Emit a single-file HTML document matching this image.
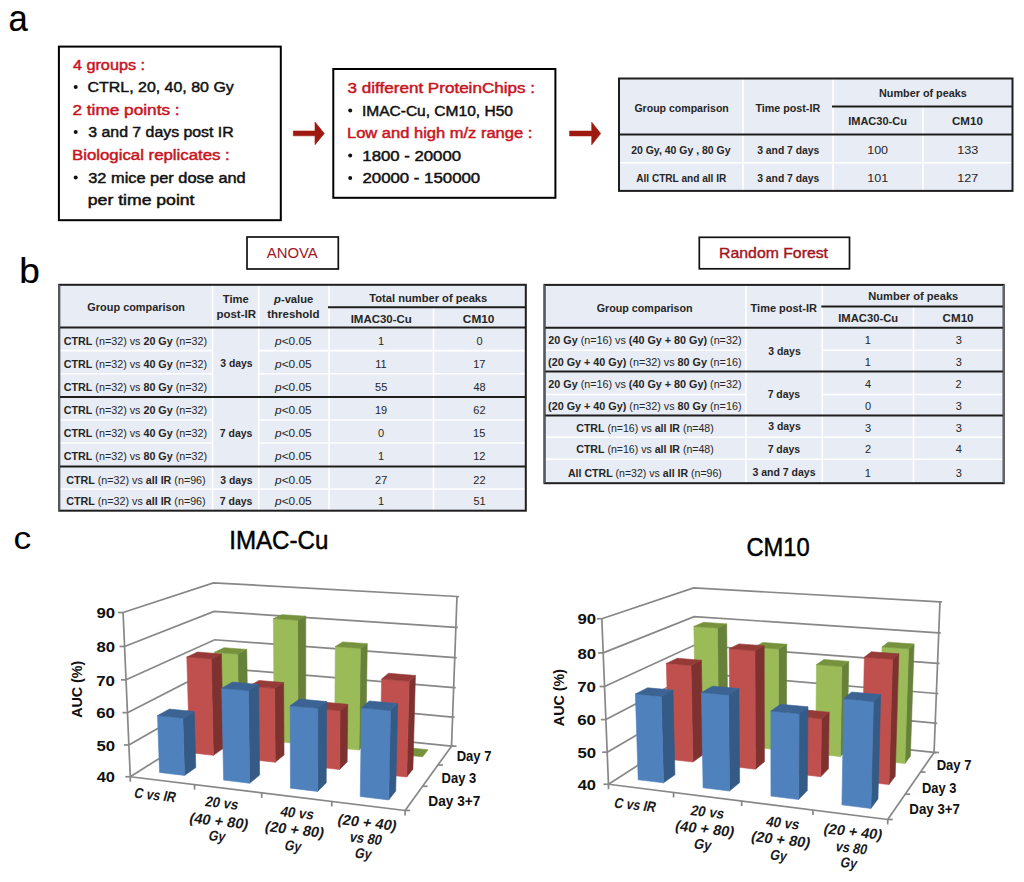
<!DOCTYPE html>
<html><head><meta charset="utf-8"><style>
html,body{margin:0;padding:0;background:#fff;}
svg{display:block;font-family:"Liberation Sans",sans-serif;}
</style></head><body>
<svg width="1024" height="882" viewBox="0 0 1024 882">
<rect width="1024" height="882" fill="#fff"/>
<text x="8.42" y="30.60" font-size="36.5" fill="#000" textLength="19.25" lengthAdjust="spacingAndGlyphs" stroke="#000" stroke-width="0.2">a</text>
<text x="19.28" y="282.60" font-size="35.5" fill="#000" textLength="20.55" lengthAdjust="spacingAndGlyphs" stroke="#000" stroke-width="0.2">b</text>
<text x="13.59" y="548.60" font-size="32" fill="#000" textLength="17.67" lengthAdjust="spacingAndGlyphs">c</text>
<rect x="58.90" y="46.60" width="221.90" height="173.60" fill="none" stroke="#000" stroke-width="2"/>
<text x="72.98" y="70.00" font-size="14" fill="#c8141e" textLength="72.03" lengthAdjust="spacingAndGlyphs" stroke="#c8141e" stroke-width="0.45">4 groups :</text>
<circle cx="75.7" cy="86.9" r="2.0" fill="#111"/>
<text x="87.50" y="92.00" font-size="14" fill="#111" textLength="146.30" lengthAdjust="spacingAndGlyphs" stroke="#111" stroke-width="0.45">CTRL, 20, 40, 80 Gy</text>
<text x="72.44" y="114.50" font-size="14" fill="#c8141e" textLength="107.22" lengthAdjust="spacingAndGlyphs" stroke="#c8141e" stroke-width="0.45">2 time points :</text>
<circle cx="75.7" cy="131.9" r="2.0" fill="#111"/>
<text x="88.27" y="137.00" font-size="14" fill="#111" textLength="145.45" lengthAdjust="spacingAndGlyphs" stroke="#111" stroke-width="0.45">3 and 7 days post IR</text>
<text x="71.96" y="159.70" font-size="14" fill="#c8141e" textLength="157.84" lengthAdjust="spacingAndGlyphs" stroke="#c8141e" stroke-width="0.45">Biological replicates :</text>
<circle cx="75.7" cy="177.6" r="2.0" fill="#111"/>
<text x="88.25" y="182.70" font-size="14" fill="#111" textLength="157.44" lengthAdjust="spacingAndGlyphs" stroke="#111" stroke-width="0.45">32 mice per dose and</text>
<text x="87.84" y="204.80" font-size="14" fill="#111" textLength="106.70" lengthAdjust="spacingAndGlyphs" stroke="#111" stroke-width="0.45">per time point</text>
<rect x="333.30" y="69.00" width="222.10" height="128.80" fill="none" stroke="#000" stroke-width="2"/>
<text x="347.62" y="93.00" font-size="14" fill="#c8141e" textLength="187.37" lengthAdjust="spacingAndGlyphs" stroke="#c8141e" stroke-width="0.45">3 different ProteinChips :</text>
<circle cx="350.2" cy="110.4" r="2.0" fill="#111"/>
<text x="361.90" y="115.50" font-size="14" fill="#111" textLength="151.03" lengthAdjust="spacingAndGlyphs" stroke="#111" stroke-width="0.45">IMAC-Cu, CM10, H50</text>
<text x="346.98" y="138.10" font-size="14" fill="#c8141e" textLength="185.38" lengthAdjust="spacingAndGlyphs" stroke="#c8141e" stroke-width="0.45">Low and high m/z range :</text>
<circle cx="350.2" cy="155.5" r="2.0" fill="#111"/>
<text x="362.36" y="160.60" font-size="14" fill="#111" textLength="98.70" lengthAdjust="spacingAndGlyphs" stroke="#111" stroke-width="0.45">1800 - 20000</text>
<circle cx="350.2" cy="178.1" r="2.0" fill="#111"/>
<text x="362.46" y="183.20" font-size="14" fill="#111" textLength="117.74" lengthAdjust="spacingAndGlyphs" stroke="#111" stroke-width="0.45">20000 - 150000</text>
<polygon points="293.30,131.00 315.00,131.00 315.00,122.10 324.30,133.40 315.00,144.70 315.00,135.80 293.30,135.80" fill="#9e1a10" stroke="#9e1a10" stroke-width="0.6" stroke-linejoin="round"/>
<polygon points="569.60,131.10 591.70,131.10 591.70,122.20 600.70,133.50 591.70,144.80 591.70,135.90 569.60,135.90" fill="#9e1a10" stroke="#9e1a10" stroke-width="0.6" stroke-linejoin="round"/>
<rect x="619.00" y="78.50" width="393.50" height="112.40" fill="#e8ecf4" stroke="none" stroke-width="0"/>
<line x1="743.00" y1="78.50" x2="743.00" y2="190.90" stroke="#fff" stroke-width="1.6"/>
<line x1="833.00" y1="78.50" x2="833.00" y2="190.90" stroke="#fff" stroke-width="1.6"/>
<line x1="923.00" y1="106.50" x2="923.00" y2="190.90" stroke="#fff" stroke-width="1.6"/>
<line x1="619.00" y1="162.70" x2="1012.50" y2="162.70" stroke="#fff" stroke-width="1.6"/>
<line x1="832.00" y1="106.50" x2="1012.50" y2="106.50" stroke="#1e1e1e" stroke-width="2"/>
<line x1="619.00" y1="134.40" x2="1012.50" y2="134.40" stroke="#1e1e1e" stroke-width="2"/>
<rect x="619.00" y="78.50" width="393.50" height="112.40" fill="none" stroke="#1e1e1e" stroke-width="2"/>
<text x="634.38" y="111.60" font-size="11" fill="#262626" textLength="94.41" lengthAdjust="spacingAndGlyphs" font-weight="bold">Group comparison</text>
<text x="755.39" y="112.00" font-size="11" fill="#262626" textLength="64.79" lengthAdjust="spacingAndGlyphs" font-weight="bold">Time post-IR</text>
<text x="879.04" y="96.90" font-size="11" fill="#262626" textLength="87.71" lengthAdjust="spacingAndGlyphs" font-weight="bold">Number of peaks</text>
<text x="848.13" y="124.80" font-size="11" fill="#262626" textLength="58.87" lengthAdjust="spacingAndGlyphs" font-weight="bold">IMAC30-Cu</text>
<text x="952.04" y="124.80" font-size="11" fill="#262626" textLength="30.79" lengthAdjust="spacingAndGlyphs" font-weight="bold">CM10</text>
<text x="631.19" y="154.00" font-size="11" fill="#262626" textLength="99.28" lengthAdjust="spacingAndGlyphs" font-weight="bold">20 Gy, 40 Gy , 80 Gy</text>
<text x="757.19" y="154.00" font-size="11" fill="#262626" textLength="62.14" lengthAdjust="spacingAndGlyphs" font-weight="bold">3 and 7 days</text>
<text x="636.20" y="181.60" font-size="11" fill="#262626" textLength="90.07" lengthAdjust="spacingAndGlyphs" font-weight="bold">All CTRL and all IR</text>
<text x="757.19" y="181.60" font-size="11" fill="#262626" textLength="62.14" lengthAdjust="spacingAndGlyphs" font-weight="bold">3 and 7 days</text>
<text x="867.20" y="153.70" font-size="11" fill="#262626" textLength="20.88" lengthAdjust="spacingAndGlyphs">100</text>
<text x="957.19" y="153.70" font-size="11" fill="#262626" textLength="21.02" lengthAdjust="spacingAndGlyphs">133</text>
<text x="867.19" y="181.60" font-size="11" fill="#262626" textLength="21.02" lengthAdjust="spacingAndGlyphs">101</text>
<text x="957.19" y="181.60" font-size="11" fill="#262626" textLength="21.02" lengthAdjust="spacingAndGlyphs">127</text>
<rect x="247.00" y="237.00" width="91.30" height="32.00" fill="none" stroke="#111" stroke-width="1.7"/>
<text x="266.80" y="258.30" font-size="14.5" fill="#a3151f" textLength="50.90" lengthAdjust="spacingAndGlyphs">ANOVA</text>
<rect x="699.30" y="237.30" width="150.20" height="31.50" fill="none" stroke="#111" stroke-width="1.7"/>
<text x="719.14" y="257.70" font-size="14.5" fill="#a3151f" textLength="108.84" lengthAdjust="spacingAndGlyphs" stroke="#a3151f" stroke-width="0.4">Random Forest</text>
<rect x="59.20" y="284.80" width="466.60" height="225.90" fill="#e8ecf4" stroke="none" stroke-width="0"/>
<line x1="212.50" y1="284.80" x2="212.50" y2="510.70" stroke="#fff" stroke-width="1.6"/>
<line x1="258.70" y1="284.80" x2="258.70" y2="510.70" stroke="#fff" stroke-width="1.6"/>
<line x1="329.00" y1="284.80" x2="329.00" y2="510.70" stroke="#fff" stroke-width="1.6"/>
<line x1="433.50" y1="307.30" x2="433.50" y2="510.70" stroke="#fff" stroke-width="1.6"/>
<line x1="59.20" y1="350.60" x2="212.50" y2="350.60" stroke="#fff" stroke-width="1.6"/>
<line x1="258.70" y1="350.60" x2="525.80" y2="350.60" stroke="#fff" stroke-width="1.6"/>
<line x1="59.20" y1="373.80" x2="212.50" y2="373.80" stroke="#fff" stroke-width="1.6"/>
<line x1="258.70" y1="373.80" x2="525.80" y2="373.80" stroke="#fff" stroke-width="1.6"/>
<line x1="59.20" y1="420.00" x2="212.50" y2="420.00" stroke="#fff" stroke-width="1.6"/>
<line x1="258.70" y1="420.00" x2="525.80" y2="420.00" stroke="#fff" stroke-width="1.6"/>
<line x1="59.20" y1="443.00" x2="212.50" y2="443.00" stroke="#fff" stroke-width="1.6"/>
<line x1="258.70" y1="443.00" x2="525.80" y2="443.00" stroke="#fff" stroke-width="1.6"/>
<line x1="59.20" y1="489.00" x2="525.80" y2="489.00" stroke="#fff" stroke-width="1.6"/>
<line x1="328.00" y1="307.30" x2="525.80" y2="307.30" stroke="#1e1e1e" stroke-width="2"/>
<line x1="59.20" y1="327.60" x2="525.80" y2="327.60" stroke="#1e1e1e" stroke-width="2"/>
<line x1="59.20" y1="397.00" x2="525.80" y2="397.00" stroke="#1e1e1e" stroke-width="2"/>
<line x1="59.20" y1="466.40" x2="525.80" y2="466.40" stroke="#1e1e1e" stroke-width="2"/>
<rect x="59.20" y="284.80" width="466.60" height="225.90" fill="none" stroke="#1e1e1e" stroke-width="2"/>
<line x1="59.20" y1="284.80" x2="59.20" y2="510.70" stroke="#555a62" stroke-width="1.8"/>
<text x="87.36" y="311.20" font-size="11" fill="#262626" textLength="97.64" lengthAdjust="spacingAndGlyphs" font-weight="bold">Group comparison</text>
<text x="222.89" y="303.40" font-size="11" fill="#262626" textLength="25.91" lengthAdjust="spacingAndGlyphs" font-weight="bold">Time</text>
<text x="216.40" y="318.10" font-size="11" fill="#262626" textLength="39.58" lengthAdjust="spacingAndGlyphs" font-weight="bold">post-IR</text>
<text x="274.02" y="303.40" font-size="11" fill="#262626" textLength="39.33" lengthAdjust="spacingAndGlyphs"><tspan font-weight="bold" font-style="italic">p</tspan><tspan font-weight="bold">-value</tspan></text>
<text x="267.29" y="318.10" font-size="11" fill="#262626" textLength="52.21" lengthAdjust="spacingAndGlyphs" font-weight="bold">threshold</text>
<text x="369.29" y="301.50" font-size="11" fill="#262626" textLength="117.98" lengthAdjust="spacingAndGlyphs" font-weight="bold">Total number of peaks</text>
<text x="350.70" y="323.00" font-size="11" fill="#262626" textLength="61.03" lengthAdjust="spacingAndGlyphs" font-weight="bold">IMAC30-Cu</text>
<text x="462.83" y="323.00" font-size="11" fill="#262626" textLength="31.62" lengthAdjust="spacingAndGlyphs" font-weight="bold">CM10</text>
<text x="63.77" y="345.00" font-size="11" fill="#262626" textLength="143.26" lengthAdjust="spacingAndGlyphs"><tspan font-weight="bold">CTRL</tspan><tspan> (n=32) vs </tspan><tspan font-weight="bold">20 Gy</tspan><tspan> (n=32)</tspan></text>
<text x="63.77" y="367.70" font-size="11" fill="#262626" textLength="143.26" lengthAdjust="spacingAndGlyphs"><tspan font-weight="bold">CTRL</tspan><tspan> (n=32) vs </tspan><tspan font-weight="bold">40 Gy</tspan><tspan> (n=32)</tspan></text>
<text x="63.77" y="390.80" font-size="11" fill="#262626" textLength="143.26" lengthAdjust="spacingAndGlyphs"><tspan font-weight="bold">CTRL</tspan><tspan> (n=32) vs </tspan><tspan font-weight="bold">80 Gy</tspan><tspan> (n=32)</tspan></text>
<text x="63.77" y="413.60" font-size="11" fill="#262626" textLength="143.26" lengthAdjust="spacingAndGlyphs"><tspan font-weight="bold">CTRL</tspan><tspan> (n=32) vs </tspan><tspan font-weight="bold">20 Gy</tspan><tspan> (n=32)</tspan></text>
<text x="63.77" y="436.80" font-size="11" fill="#262626" textLength="143.26" lengthAdjust="spacingAndGlyphs"><tspan font-weight="bold">CTRL</tspan><tspan> (n=32) vs </tspan><tspan font-weight="bold">40 Gy</tspan><tspan> (n=32)</tspan></text>
<text x="63.77" y="459.80" font-size="11" fill="#262626" textLength="143.26" lengthAdjust="spacingAndGlyphs"><tspan font-weight="bold">CTRL</tspan><tspan> (n=32) vs </tspan><tspan font-weight="bold">80 Gy</tspan><tspan> (n=32)</tspan></text>
<text x="66.17" y="483.50" font-size="11" fill="#262626" textLength="139.51" lengthAdjust="spacingAndGlyphs"><tspan font-weight="bold">CTRL</tspan><tspan> (n=32) vs </tspan><tspan font-weight="bold">all IR</tspan><tspan> (n=96)</tspan></text>
<text x="66.17" y="504.70" font-size="11" fill="#262626" textLength="139.51" lengthAdjust="spacingAndGlyphs"><tspan font-weight="bold">CTRL</tspan><tspan> (n=32) vs </tspan><tspan font-weight="bold">all IR</tspan><tspan> (n=96)</tspan></text>
<text x="220.29" y="366.90" font-size="11" fill="#262626" textLength="32.35" lengthAdjust="spacingAndGlyphs" font-weight="bold">3 days</text>
<text x="219.78" y="436.60" font-size="11" fill="#262626" textLength="32.67" lengthAdjust="spacingAndGlyphs" font-weight="bold">7 days</text>
<text x="220.29" y="483.50" font-size="11" fill="#262626" textLength="32.35" lengthAdjust="spacingAndGlyphs" font-weight="bold">3 days</text>
<text x="219.78" y="504.70" font-size="11" fill="#262626" textLength="32.67" lengthAdjust="spacingAndGlyphs" font-weight="bold">7 days</text>
<text x="275.04" y="345.00" font-size="11" fill="#262626" textLength="36.69" lengthAdjust="spacingAndGlyphs"><tspan font-style="italic">p</tspan><tspan>&lt;0.05</tspan></text>
<text x="377.95" y="345.00" font-size="11" fill="#262626" textLength="6.12" lengthAdjust="spacingAndGlyphs">1</text>
<text x="476.42" y="345.00" font-size="11" fill="#262626" textLength="6.12" lengthAdjust="spacingAndGlyphs">0</text>
<text x="275.04" y="367.70" font-size="11" fill="#262626" textLength="36.69" lengthAdjust="spacingAndGlyphs"><tspan font-style="italic">p</tspan><tspan>&lt;0.05</tspan></text>
<text x="375.31" y="367.70" font-size="11" fill="#262626" textLength="11.42" lengthAdjust="spacingAndGlyphs">11</text>
<text x="473.18" y="367.70" font-size="11" fill="#262626" textLength="12.23" lengthAdjust="spacingAndGlyphs">17</text>
<text x="275.04" y="390.80" font-size="11" fill="#262626" textLength="36.69" lengthAdjust="spacingAndGlyphs"><tspan font-style="italic">p</tspan><tspan>&lt;0.05</tspan></text>
<text x="375.04" y="390.80" font-size="11" fill="#262626" textLength="12.23" lengthAdjust="spacingAndGlyphs">55</text>
<text x="473.50" y="390.80" font-size="11" fill="#262626" textLength="12.23" lengthAdjust="spacingAndGlyphs">48</text>
<text x="275.04" y="413.60" font-size="11" fill="#262626" textLength="36.69" lengthAdjust="spacingAndGlyphs"><tspan font-style="italic">p</tspan><tspan>&lt;0.05</tspan></text>
<text x="374.88" y="413.60" font-size="11" fill="#262626" textLength="12.23" lengthAdjust="spacingAndGlyphs">19</text>
<text x="473.34" y="413.60" font-size="11" fill="#262626" textLength="12.23" lengthAdjust="spacingAndGlyphs">62</text>
<text x="275.04" y="436.80" font-size="11" fill="#262626" textLength="36.69" lengthAdjust="spacingAndGlyphs"><tspan font-style="italic">p</tspan><tspan>&lt;0.05</tspan></text>
<text x="378.12" y="436.80" font-size="11" fill="#262626" textLength="6.12" lengthAdjust="spacingAndGlyphs">0</text>
<text x="473.12" y="436.80" font-size="11" fill="#262626" textLength="12.23" lengthAdjust="spacingAndGlyphs">15</text>
<text x="275.04" y="459.80" font-size="11" fill="#262626" textLength="36.69" lengthAdjust="spacingAndGlyphs"><tspan font-style="italic">p</tspan><tspan>&lt;0.05</tspan></text>
<text x="377.95" y="459.80" font-size="11" fill="#262626" textLength="6.12" lengthAdjust="spacingAndGlyphs">1</text>
<text x="473.18" y="459.80" font-size="11" fill="#262626" textLength="12.23" lengthAdjust="spacingAndGlyphs">12</text>
<text x="275.04" y="483.50" font-size="11" fill="#262626" textLength="36.69" lengthAdjust="spacingAndGlyphs"><tspan font-style="italic">p</tspan><tspan>&lt;0.05</tspan></text>
<text x="375.04" y="483.50" font-size="11" fill="#262626" textLength="12.23" lengthAdjust="spacingAndGlyphs">27</text>
<text x="473.34" y="483.50" font-size="11" fill="#262626" textLength="12.23" lengthAdjust="spacingAndGlyphs">22</text>
<text x="275.04" y="504.70" font-size="11" fill="#262626" textLength="36.69" lengthAdjust="spacingAndGlyphs"><tspan font-style="italic">p</tspan><tspan>&lt;0.05</tspan></text>
<text x="377.95" y="504.70" font-size="11" fill="#262626" textLength="6.12" lengthAdjust="spacingAndGlyphs">1</text>
<text x="473.39" y="504.70" font-size="11" fill="#262626" textLength="12.23" lengthAdjust="spacingAndGlyphs">51</text>
<rect x="544.50" y="284.90" width="459.20" height="198.30" fill="#e8ecf4" stroke="none" stroke-width="0"/>
<line x1="746.00" y1="284.90" x2="746.00" y2="483.20" stroke="#fff" stroke-width="1.6"/>
<line x1="822.30" y1="284.90" x2="822.30" y2="483.20" stroke="#fff" stroke-width="1.6"/>
<line x1="913.50" y1="306.50" x2="913.50" y2="483.20" stroke="#fff" stroke-width="1.6"/>
<line x1="544.50" y1="350.30" x2="746.00" y2="350.30" stroke="#fff" stroke-width="1.6"/>
<line x1="822.30" y1="350.30" x2="1003.70" y2="350.30" stroke="#fff" stroke-width="1.6"/>
<line x1="544.50" y1="394.50" x2="746.00" y2="394.50" stroke="#fff" stroke-width="1.6"/>
<line x1="822.30" y1="394.50" x2="1003.70" y2="394.50" stroke="#fff" stroke-width="1.6"/>
<line x1="544.50" y1="437.30" x2="1003.70" y2="437.30" stroke="#fff" stroke-width="1.6"/>
<line x1="544.50" y1="459.30" x2="1003.70" y2="459.30" stroke="#fff" stroke-width="1.6"/>
<line x1="821.30" y1="306.50" x2="1003.70" y2="306.50" stroke="#1e1e1e" stroke-width="2"/>
<line x1="544.50" y1="327.80" x2="1003.70" y2="327.80" stroke="#1e1e1e" stroke-width="2"/>
<line x1="544.50" y1="371.50" x2="1003.70" y2="371.50" stroke="#1e1e1e" stroke-width="2"/>
<line x1="544.50" y1="415.60" x2="1003.70" y2="415.60" stroke="#1e1e1e" stroke-width="2"/>
<rect x="544.50" y="284.90" width="459.20" height="198.30" fill="none" stroke="#1e1e1e" stroke-width="2"/>
<line x1="544.50" y1="284.90" x2="544.50" y2="483.20" stroke="#555a62" stroke-width="1.8"/>
<line x1="1003.70" y1="284.90" x2="1003.70" y2="483.20" stroke="#60656c" stroke-width="1.8"/>
<text x="596.67" y="311.60" font-size="11" fill="#262626" textLength="96.03" lengthAdjust="spacingAndGlyphs" font-weight="bold">Group comparison</text>
<text x="750.59" y="311.70" font-size="11" fill="#262626" textLength="66.30" lengthAdjust="spacingAndGlyphs" font-weight="bold">Time post-IR</text>
<text x="868.22" y="300.30" font-size="11" fill="#262626" textLength="90.04" lengthAdjust="spacingAndGlyphs" font-weight="bold">Number of peaks</text>
<text x="838.21" y="321.90" font-size="11" fill="#262626" textLength="59.90" lengthAdjust="spacingAndGlyphs" font-weight="bold">IMAC30-Cu</text>
<text x="942.64" y="321.90" font-size="11" fill="#262626" textLength="30.90" lengthAdjust="spacingAndGlyphs" font-weight="bold">CM10</text>
<text x="548.28" y="344.40" font-size="11" fill="#262626" textLength="193.23" lengthAdjust="spacingAndGlyphs"><tspan font-weight="bold">20 Gy</tspan><tspan> (n=16) vs </tspan><tspan font-weight="bold">(40 Gy + 80 Gy)</tspan><tspan> (n=32)</tspan></text>
<text x="548.06" y="365.50" font-size="11" fill="#262626" textLength="193.44" lengthAdjust="spacingAndGlyphs"><tspan font-weight="bold">(20 Gy + 40 Gy)</tspan><tspan> (n=32) vs </tspan><tspan font-weight="bold">80 Gy</tspan><tspan> (n=16)</tspan></text>
<text x="548.28" y="387.50" font-size="11" fill="#262626" textLength="193.23" lengthAdjust="spacingAndGlyphs"><tspan font-weight="bold">20 Gy</tspan><tspan> (n=16) vs </tspan><tspan font-weight="bold">(40 Gy + 80 Gy)</tspan><tspan> (n=32)</tspan></text>
<text x="548.06" y="409.70" font-size="11" fill="#262626" textLength="193.44" lengthAdjust="spacingAndGlyphs"><tspan font-weight="bold">(20 Gy + 40 Gy)</tspan><tspan> (n=32) vs </tspan><tspan font-weight="bold">80 Gy</tspan><tspan> (n=16)</tspan></text>
<text x="576.28" y="431.50" font-size="11" fill="#262626" textLength="137.49" lengthAdjust="spacingAndGlyphs"><tspan font-weight="bold">CTRL</tspan><tspan> (n=16) vs </tspan><tspan font-weight="bold">all IR</tspan><tspan> (n=48)</tspan></text>
<text x="576.28" y="453.30" font-size="11" fill="#262626" textLength="137.49" lengthAdjust="spacingAndGlyphs"><tspan font-weight="bold">CTRL</tspan><tspan> (n=16) vs </tspan><tspan font-weight="bold">all IR</tspan><tspan> (n=48)</tspan></text>
<text x="567.98" y="476.50" font-size="11" fill="#262626" textLength="153.94" lengthAdjust="spacingAndGlyphs"><tspan font-weight="bold">All CTRL</tspan><tspan> (n=32) vs </tspan><tspan font-weight="bold">all IR</tspan><tspan> (n=96)</tspan></text>
<text x="768.19" y="354.90" font-size="11" fill="#262626" textLength="32.55" lengthAdjust="spacingAndGlyphs" font-weight="bold">3 days</text>
<text x="767.68" y="397.80" font-size="11" fill="#262626" textLength="32.46" lengthAdjust="spacingAndGlyphs" font-weight="bold">7 days</text>
<text x="768.19" y="430.30" font-size="11" fill="#262626" textLength="32.55" lengthAdjust="spacingAndGlyphs" font-weight="bold">3 days</text>
<text x="767.68" y="452.60" font-size="11" fill="#262626" textLength="32.46" lengthAdjust="spacingAndGlyphs" font-weight="bold">7 days</text>
<text x="752.49" y="476.00" font-size="11" fill="#262626" textLength="63.05" lengthAdjust="spacingAndGlyphs" font-weight="bold">3 and 7 days</text>
<text x="864.75" y="344.40" font-size="11" fill="#262626" textLength="6.12" lengthAdjust="spacingAndGlyphs">1</text>
<text x="955.67" y="344.40" font-size="11" fill="#262626" textLength="6.12" lengthAdjust="spacingAndGlyphs">3</text>
<text x="864.75" y="365.50" font-size="11" fill="#262626" textLength="6.12" lengthAdjust="spacingAndGlyphs">1</text>
<text x="955.67" y="365.50" font-size="11" fill="#262626" textLength="6.12" lengthAdjust="spacingAndGlyphs">3</text>
<text x="864.98" y="387.50" font-size="11" fill="#262626" textLength="6.12" lengthAdjust="spacingAndGlyphs">4</text>
<text x="955.62" y="387.50" font-size="11" fill="#262626" textLength="6.12" lengthAdjust="spacingAndGlyphs">2</text>
<text x="864.92" y="409.70" font-size="11" fill="#262626" textLength="6.12" lengthAdjust="spacingAndGlyphs">0</text>
<text x="955.67" y="409.70" font-size="11" fill="#262626" textLength="6.12" lengthAdjust="spacingAndGlyphs">3</text>
<text x="864.97" y="431.50" font-size="11" fill="#262626" textLength="6.12" lengthAdjust="spacingAndGlyphs">3</text>
<text x="955.67" y="431.50" font-size="11" fill="#262626" textLength="6.12" lengthAdjust="spacingAndGlyphs">3</text>
<text x="864.92" y="453.30" font-size="11" fill="#262626" textLength="6.12" lengthAdjust="spacingAndGlyphs">2</text>
<text x="955.68" y="453.30" font-size="11" fill="#262626" textLength="6.12" lengthAdjust="spacingAndGlyphs">4</text>
<text x="864.75" y="476.50" font-size="11" fill="#262626" textLength="6.12" lengthAdjust="spacingAndGlyphs">1</text>
<text x="955.67" y="476.50" font-size="11" fill="#262626" textLength="6.12" lengthAdjust="spacingAndGlyphs">3</text>
<text x="229.23" y="549.30" font-size="26.5" fill="#000" textLength="99.15" lengthAdjust="spacingAndGlyphs" stroke="#000" stroke-width="0.5">IMAC-Cu</text>
<text x="746.41" y="556.20" font-size="26.5" fill="#000" textLength="63.38" lengthAdjust="spacingAndGlyphs" stroke="#000" stroke-width="0.5">CM10</text>
<polyline points="130.28,776.76 216.48,722.28 451.52,746.13" fill="none" stroke="#878787" stroke-width="1.7"/>
<line x1="125.28" y1="776.76" x2="130.28" y2="776.76" stroke="#878787" stroke-width="1.7"/>
<line x1="451.52" y1="746.13" x2="453.52" y2="746.23" stroke="#878787" stroke-width="1.7"/>
<polyline points="128.88,744.97 215.89,695.14 452.59,717.07" fill="none" stroke="#878787" stroke-width="1.7"/>
<line x1="123.88" y1="744.97" x2="128.88" y2="744.97" stroke="#878787" stroke-width="1.7"/>
<line x1="452.59" y1="717.07" x2="454.59" y2="717.17" stroke="#878787" stroke-width="1.7"/>
<polyline points="127.46,712.66 215.29,667.63 453.66,687.59" fill="none" stroke="#878787" stroke-width="1.7"/>
<line x1="122.46" y1="712.66" x2="127.46" y2="712.66" stroke="#878787" stroke-width="1.7"/>
<line x1="453.66" y1="687.59" x2="455.66" y2="687.69" stroke="#878787" stroke-width="1.7"/>
<polyline points="126.02,679.83 214.67,639.74 454.76,657.67" fill="none" stroke="#878787" stroke-width="1.7"/>
<line x1="121.02" y1="679.83" x2="126.02" y2="679.83" stroke="#878787" stroke-width="1.7"/>
<line x1="454.76" y1="657.67" x2="456.76" y2="657.77" stroke="#878787" stroke-width="1.7"/>
<polyline points="124.56,646.47 214.05,611.48 455.87,627.31" fill="none" stroke="#878787" stroke-width="1.7"/>
<line x1="119.56" y1="646.47" x2="124.56" y2="646.47" stroke="#878787" stroke-width="1.7"/>
<line x1="455.87" y1="627.31" x2="457.87" y2="627.41" stroke="#878787" stroke-width="1.7"/>
<polyline points="123.07,612.55 213.43,582.82 456.99,596.49" fill="none" stroke="#878787" stroke-width="1.7"/>
<line x1="118.07" y1="612.55" x2="123.07" y2="612.55" stroke="#878787" stroke-width="1.7"/>
<line x1="456.99" y1="596.49" x2="458.99" y2="596.59" stroke="#878787" stroke-width="1.7"/>
<line x1="130.28" y1="776.76" x2="123.07" y2="612.55" stroke="#878787" stroke-width="1.7"/>
<line x1="451.52" y1="746.13" x2="456.99" y2="596.49" stroke="#878787" stroke-width="1.7"/>
<line x1="130.28" y1="776.76" x2="405.10" y2="810.47" stroke="#878787" stroke-width="1.7"/>
<line x1="405.10" y1="810.47" x2="451.52" y2="746.13" stroke="#878787" stroke-width="1.7"/>
<line x1="130.28" y1="776.76" x2="130.28" y2="781.76" stroke="#878787" stroke-width="1.7"/>
<line x1="194.55" y1="784.65" x2="194.55" y2="789.65" stroke="#878787" stroke-width="1.7"/>
<line x1="261.65" y1="792.87" x2="261.65" y2="797.87" stroke="#878787" stroke-width="1.7"/>
<line x1="331.76" y1="801.47" x2="331.76" y2="806.47" stroke="#878787" stroke-width="1.7"/>
<line x1="405.10" y1="810.47" x2="405.10" y2="815.47" stroke="#878787" stroke-width="1.7"/>
<line x1="405.10" y1="810.47" x2="410.10" y2="810.47" stroke="#878787" stroke-width="1.7"/>
<line x1="422.54" y1="786.30" x2="427.54" y2="786.30" stroke="#878787" stroke-width="1.7"/>
<line x1="437.89" y1="765.02" x2="442.89" y2="765.02" stroke="#878787" stroke-width="1.7"/>
<line x1="451.52" y1="746.13" x2="456.52" y2="746.13" stroke="#878787" stroke-width="1.7"/>
<polygon points="238.97,737.41 237.61,654.10 246.74,649.45 247.90,731.18" fill="#67803a" stroke="#67803a" stroke-width="0.6" stroke-linejoin="round"/>
<polygon points="216.32,735.02 238.97,737.41 237.61,654.10 214.49,652.28" fill="#9bbb59" stroke="#9bbb59" stroke-width="0.6" stroke-linejoin="round"/>
<polygon points="214.49,652.28 237.61,654.10 246.74,649.45 224.04,647.71" fill="#76923c" stroke="#76923c" stroke-width="0.6" stroke-linejoin="round"/>
<polygon points="297.85,743.63 297.63,620.23 305.75,616.18 305.73,737.15" fill="#67803a" stroke="#67803a" stroke-width="0.6" stroke-linejoin="round"/>
<polygon points="274.33,741.15 297.85,743.63 297.63,620.23 273.39,618.62" fill="#9bbb59" stroke="#9bbb59" stroke-width="0.6" stroke-linejoin="round"/>
<polygon points="273.39,618.62 297.63,620.23 305.75,616.18 281.96,614.63" fill="#76923c" stroke="#76923c" stroke-width="0.6" stroke-linejoin="round"/>
<polygon points="359.01,750.09 360.38,648.38 367.26,643.66 365.75,743.36" fill="#67803a" stroke="#67803a" stroke-width="0.6" stroke-linejoin="round"/>
<polygon points="334.57,747.51 359.01,750.09 360.38,648.38 335.32,646.53" fill="#9bbb59" stroke="#9bbb59" stroke-width="0.6" stroke-linejoin="round"/>
<polygon points="335.32,646.53 360.38,648.38 367.26,643.66 342.68,641.89" fill="#76923c" stroke="#76923c" stroke-width="0.6" stroke-linejoin="round"/>
<polygon points="397.18,754.12 422.59,756.81 428.10,749.80 403.19,747.22" fill="#76923c" stroke="#76923c" stroke-width="0.6" stroke-linejoin="round"/>
<polygon points="213.34,755.32 211.13,658.95 221.40,653.93 223.32,748.35" fill="#7e3230" stroke="#7e3230" stroke-width="0.6" stroke-linejoin="round"/>
<polygon points="189.58,752.65 213.34,755.32 211.13,658.95 186.82,656.98" fill="#c0504d" stroke="#c0504d" stroke-width="0.6" stroke-linejoin="round"/>
<polygon points="186.82,656.98 211.13,658.95 221.40,653.93 197.53,652.04" fill="#963a38" stroke="#963a38" stroke-width="0.6" stroke-linejoin="round"/>
<polygon points="275.19,762.27 274.64,688.35 283.64,682.60 284.02,755.01" fill="#7e3230" stroke="#7e3230" stroke-width="0.6" stroke-linejoin="round"/>
<polygon points="250.46,759.49 275.19,762.27 274.64,688.35 249.46,686.11" fill="#c0504d" stroke="#c0504d" stroke-width="0.6" stroke-linejoin="round"/>
<polygon points="249.46,686.11 274.64,688.35 283.64,682.60 258.95,680.46" fill="#963a38" stroke="#963a38" stroke-width="0.6" stroke-linejoin="round"/>
<polygon points="339.58,769.50 340.09,710.72 347.76,704.37 347.16,761.93" fill="#7e3230" stroke="#7e3230" stroke-width="0.6" stroke-linejoin="round"/>
<polygon points="313.83,766.61 339.58,769.50 340.09,710.72 313.96,708.27" fill="#c0504d" stroke="#c0504d" stroke-width="0.6" stroke-linejoin="round"/>
<polygon points="313.96,708.27 340.09,710.72 347.76,704.37 322.16,702.02" fill="#963a38" stroke="#963a38" stroke-width="0.6" stroke-linejoin="round"/>
<polygon points="406.68,777.04 409.12,681.31 415.42,675.46 412.89,769.14" fill="#7e3230" stroke="#7e3230" stroke-width="0.6" stroke-linejoin="round"/>
<polygon points="379.84,774.02 406.68,777.04 409.12,681.31 381.63,679.03" fill="#c0504d" stroke="#c0504d" stroke-width="0.6" stroke-linejoin="round"/>
<polygon points="381.63,679.03 409.12,681.31 415.42,675.46 388.50,673.28" fill="#963a38" stroke="#963a38" stroke-width="0.6" stroke-linejoin="round"/>
<polygon points="184.54,775.43 182.81,718.18 194.24,711.54 195.78,767.59" fill="#345a86" stroke="#345a86" stroke-width="0.6" stroke-linejoin="round"/>
<polygon points="159.56,772.43 184.54,775.43 182.81,718.18 157.49,715.62" fill="#4f81bd" stroke="#4f81bd" stroke-width="0.6" stroke-linejoin="round"/>
<polygon points="157.49,715.62 182.81,718.18 194.24,711.54 169.41,709.09" fill="#3b6494" stroke="#3b6494" stroke-width="0.6" stroke-linejoin="round"/>
<polygon points="249.67,783.25 248.38,690.60 258.60,684.41 259.64,775.06" fill="#345a86" stroke="#345a86" stroke-width="0.6" stroke-linejoin="round"/>
<polygon points="223.62,780.12 249.67,783.25 248.38,690.60 221.74,688.19" fill="#4f81bd" stroke="#4f81bd" stroke-width="0.6" stroke-linejoin="round"/>
<polygon points="221.74,688.19 248.38,690.60 258.60,684.41 232.50,682.11" fill="#3b6494" stroke="#3b6494" stroke-width="0.6" stroke-linejoin="round"/>
<polygon points="317.65,791.41 317.92,708.31 326.66,701.58 326.22,782.85" fill="#345a86" stroke="#345a86" stroke-width="0.6" stroke-linejoin="round"/>
<polygon points="290.45,788.14 317.65,791.41 317.92,708.31 290.15,705.70" fill="#4f81bd" stroke="#4f81bd" stroke-width="0.6" stroke-linejoin="round"/>
<polygon points="290.15,705.70 317.92,708.31 326.66,701.58 299.47,699.09" fill="#3b6494" stroke="#3b6494" stroke-width="0.6" stroke-linejoin="round"/>
<polygon points="388.67,799.93 390.57,710.49 397.71,703.54 395.71,790.98" fill="#345a86" stroke="#345a86" stroke-width="0.6" stroke-linejoin="round"/>
<polygon points="360.24,796.52 388.67,799.93 390.57,710.49 361.48,707.80" fill="#4f81bd" stroke="#4f81bd" stroke-width="0.6" stroke-linejoin="round"/>
<polygon points="361.48,707.80 390.57,710.49 397.71,703.54 369.28,700.98" fill="#3b6494" stroke="#3b6494" stroke-width="0.6" stroke-linejoin="round"/>
<text x="96.74" y="782.46" font-size="15.5" fill="#111" textLength="18.29" lengthAdjust="spacingAndGlyphs" font-weight="bold">40</text>
<text x="96.40" y="750.67" font-size="15.5" fill="#111" textLength="18.64" lengthAdjust="spacingAndGlyphs" font-weight="bold">50</text>
<text x="96.22" y="718.36" font-size="15.5" fill="#111" textLength="18.82" lengthAdjust="spacingAndGlyphs" font-weight="bold">60</text>
<text x="96.22" y="685.53" font-size="15.5" fill="#111" textLength="18.82" lengthAdjust="spacingAndGlyphs" font-weight="bold">70</text>
<text x="96.40" y="652.17" font-size="15.5" fill="#111" textLength="18.64" lengthAdjust="spacingAndGlyphs" font-weight="bold">80</text>
<text x="96.40" y="618.25" font-size="15.5" fill="#111" textLength="18.64" lengthAdjust="spacingAndGlyphs" font-weight="bold">90</text>
<text x="49.17" y="694.20" font-size="14" fill="#111" textLength="57.14" lengthAdjust="spacingAndGlyphs" font-weight="bold" transform="rotate(-90 77.60 689.40)">AUC (%)</text>
<text x="134.41" y="800.00" font-size="14.5" fill="#1a1a1a" textLength="41.74" lengthAdjust="spacingAndGlyphs" font-weight="bold" transform="translate(155.40,795.00) rotate(6.5) skewX(-9) translate(-155.40,-795.00)">C vs IR</text>
<text x="205.40" y="808.00" font-size="14.5" fill="#1a1a1a" textLength="33.12" lengthAdjust="spacingAndGlyphs" font-weight="bold" transform="translate(221.95,803.00) rotate(6.5) skewX(-9) translate(-221.95,-803.00)">20 vs</text>
<text x="189.57" y="826.00" font-size="14.5" fill="#1a1a1a" textLength="59.17" lengthAdjust="spacingAndGlyphs" font-weight="bold" transform="translate(219.15,821.00) rotate(6.5) skewX(-9) translate(-219.15,-821.00)">(40 + 80)</text>
<text x="209.11" y="841.00" font-size="14.5" fill="#1a1a1a" textLength="16.44" lengthAdjust="spacingAndGlyphs" font-weight="bold" transform="translate(217.55,836.00) rotate(6.5) skewX(-9) translate(-217.55,-836.00)">Gy</text>
<text x="280.77" y="817.90" font-size="14.5" fill="#1a1a1a" textLength="33.26" lengthAdjust="spacingAndGlyphs" font-weight="bold" transform="translate(297.25,812.90) rotate(6.5) skewX(-9) translate(-297.25,-812.90)">40 vs</text>
<text x="265.27" y="834.50" font-size="14.5" fill="#1a1a1a" textLength="59.07" lengthAdjust="spacingAndGlyphs" font-weight="bold" transform="translate(294.80,829.50) rotate(6.5) skewX(-9) translate(-294.80,-829.50)">(20 + 80)</text>
<text x="285.01" y="850.90" font-size="14.5" fill="#1a1a1a" textLength="16.34" lengthAdjust="spacingAndGlyphs" font-weight="bold" transform="translate(293.40,845.90) rotate(6.5) skewX(-9) translate(-293.40,-845.90)">Gy</text>
<text x="337.87" y="827.50" font-size="14.5" fill="#1a1a1a" textLength="59.07" lengthAdjust="spacingAndGlyphs" font-weight="bold" transform="translate(367.40,822.50) rotate(6.5) skewX(-9) translate(-367.40,-822.50)">(20 + 40)</text>
<text x="350.00" y="843.30" font-size="14.5" fill="#1a1a1a" textLength="32.01" lengthAdjust="spacingAndGlyphs" font-weight="bold" transform="translate(365.80,838.30) rotate(6.5) skewX(-9) translate(-365.80,-838.30)">vs 80</text>
<text x="355.31" y="858.60" font-size="14.5" fill="#1a1a1a" textLength="16.34" lengthAdjust="spacingAndGlyphs" font-weight="bold" transform="translate(363.70,853.60) rotate(6.5) skewX(-9) translate(-363.70,-853.60)">Gy</text>
<text x="456.69" y="761.00" font-size="14.5" fill="#111" textLength="34.74" lengthAdjust="spacingAndGlyphs" font-weight="bold">Day 7</text>
<text x="441.59" y="783.20" font-size="14.5" fill="#111" textLength="34.60" lengthAdjust="spacingAndGlyphs" font-weight="bold">Day 3</text>
<text x="428.24" y="805.50" font-size="14.5" fill="#111" textLength="52.22" lengthAdjust="spacingAndGlyphs" font-weight="bold">Day 3+7</text>
<polyline points="608.47,784.26 696.22,727.85 934.06,752.45" fill="none" stroke="#878787" stroke-width="1.7"/>
<line x1="603.47" y1="784.26" x2="608.47" y2="784.26" stroke="#878787" stroke-width="1.7"/>
<line x1="934.06" y1="752.45" x2="936.06" y2="752.55" stroke="#878787" stroke-width="1.7"/>
<polyline points="607.18,752.19 695.72,700.60 935.21,723.18" fill="none" stroke="#878787" stroke-width="1.7"/>
<line x1="602.18" y1="752.19" x2="607.18" y2="752.19" stroke="#878787" stroke-width="1.7"/>
<line x1="935.21" y1="723.18" x2="937.21" y2="723.28" stroke="#878787" stroke-width="1.7"/>
<polyline points="605.87,719.61 695.21,672.98 936.37,693.48" fill="none" stroke="#878787" stroke-width="1.7"/>
<line x1="600.87" y1="719.61" x2="605.87" y2="719.61" stroke="#878787" stroke-width="1.7"/>
<line x1="936.37" y1="693.48" x2="938.37" y2="693.58" stroke="#878787" stroke-width="1.7"/>
<polyline points="604.54,686.52 694.69,645.00 937.55,663.36" fill="none" stroke="#878787" stroke-width="1.7"/>
<line x1="599.54" y1="686.52" x2="604.54" y2="686.52" stroke="#878787" stroke-width="1.7"/>
<line x1="937.55" y1="663.36" x2="939.55" y2="663.46" stroke="#878787" stroke-width="1.7"/>
<polyline points="603.18,652.89 694.17,616.64 938.75,632.80" fill="none" stroke="#878787" stroke-width="1.7"/>
<line x1="598.18" y1="652.89" x2="603.18" y2="652.89" stroke="#878787" stroke-width="1.7"/>
<line x1="938.75" y1="632.80" x2="940.75" y2="632.90" stroke="#878787" stroke-width="1.7"/>
<polyline points="601.81,618.72 693.63,587.89 939.96,601.79" fill="none" stroke="#878787" stroke-width="1.7"/>
<line x1="596.81" y1="618.72" x2="601.81" y2="618.72" stroke="#878787" stroke-width="1.7"/>
<line x1="939.96" y1="601.79" x2="941.96" y2="601.89" stroke="#878787" stroke-width="1.7"/>
<line x1="608.47" y1="784.26" x2="601.81" y2="618.72" stroke="#878787" stroke-width="1.7"/>
<line x1="934.06" y1="752.45" x2="939.96" y2="601.79" stroke="#878787" stroke-width="1.7"/>
<line x1="608.47" y1="784.26" x2="887.72" y2="819.48" stroke="#878787" stroke-width="1.7"/>
<line x1="887.72" y1="819.48" x2="934.06" y2="752.45" stroke="#878787" stroke-width="1.7"/>
<line x1="608.47" y1="784.26" x2="608.47" y2="789.26" stroke="#878787" stroke-width="1.7"/>
<line x1="673.56" y1="792.47" x2="673.56" y2="797.47" stroke="#878787" stroke-width="1.7"/>
<line x1="741.65" y1="801.05" x2="741.65" y2="806.05" stroke="#878787" stroke-width="1.7"/>
<line x1="812.96" y1="810.05" x2="812.96" y2="815.05" stroke="#878787" stroke-width="1.7"/>
<line x1="887.72" y1="819.48" x2="887.72" y2="824.48" stroke="#878787" stroke-width="1.7"/>
<line x1="887.72" y1="819.48" x2="892.72" y2="819.48" stroke="#878787" stroke-width="1.7"/>
<line x1="905.19" y1="794.22" x2="910.19" y2="794.22" stroke="#878787" stroke-width="1.7"/>
<line x1="920.51" y1="772.05" x2="925.51" y2="772.05" stroke="#878787" stroke-width="1.7"/>
<line x1="934.06" y1="752.45" x2="939.06" y2="752.45" stroke="#878787" stroke-width="1.7"/>
<polygon points="718.86,743.46 717.35,628.05 726.67,623.89 727.90,737.02" fill="#67803a" stroke="#67803a" stroke-width="0.6" stroke-linejoin="round"/>
<polygon points="695.97,740.99 718.86,743.46 717.35,628.05 693.84,626.42" fill="#9bbb59" stroke="#9bbb59" stroke-width="0.6" stroke-linejoin="round"/>
<polygon points="693.84,626.42 717.35,628.05 726.67,623.89 703.59,622.33" fill="#76923c" stroke="#76923c" stroke-width="0.6" stroke-linejoin="round"/>
<polygon points="778.40,749.88 778.53,648.96 786.68,644.28 786.36,743.18" fill="#67803a" stroke="#67803a" stroke-width="0.6" stroke-linejoin="round"/>
<polygon points="754.60,747.32 778.40,749.88 778.53,648.96 754.15,647.13" fill="#9bbb59" stroke="#9bbb59" stroke-width="0.6" stroke-linejoin="round"/>
<polygon points="754.15,647.13 778.53,648.96 786.68,644.28 762.76,642.53" fill="#76923c" stroke="#76923c" stroke-width="0.6" stroke-linejoin="round"/>
<polygon points="840.35,756.56 841.83,666.54 848.72,661.39 847.13,749.59" fill="#67803a" stroke="#67803a" stroke-width="0.6" stroke-linejoin="round"/>
<polygon points="815.58,753.89 840.35,756.56 841.83,666.54 816.51,664.54" fill="#9bbb59" stroke="#9bbb59" stroke-width="0.6" stroke-linejoin="round"/>
<polygon points="816.51,664.54 841.83,666.54 848.72,661.39 823.90,659.48" fill="#76923c" stroke="#76923c" stroke-width="0.6" stroke-linejoin="round"/>
<polygon points="904.87,763.52 908.56,648.86 914.12,643.98 910.37,756.25" fill="#67803a" stroke="#67803a" stroke-width="0.6" stroke-linejoin="round"/>
<polygon points="879.07,760.74 904.87,763.52 908.56,648.86 882.01,646.95" fill="#9bbb59" stroke="#9bbb59" stroke-width="0.6" stroke-linejoin="round"/>
<polygon points="882.01,646.95 908.56,648.86 914.12,643.98 888.13,642.16" fill="#76923c" stroke="#76923c" stroke-width="0.6" stroke-linejoin="round"/>
<polygon points="692.83,761.99 690.95,665.44 701.37,660.22 702.97,754.77" fill="#7e3230" stroke="#7e3230" stroke-width="0.6" stroke-linejoin="round"/>
<polygon points="668.80,759.23 692.83,761.99 690.95,665.44 666.37,663.41" fill="#c0504d" stroke="#c0504d" stroke-width="0.6" stroke-linejoin="round"/>
<polygon points="666.37,663.41 690.95,665.44 701.37,660.22 677.26,658.28" fill="#963a38" stroke="#963a38" stroke-width="0.6" stroke-linejoin="round"/>
<polygon points="755.45,769.19 754.94,650.76 764.16,645.75 764.40,761.66" fill="#7e3230" stroke="#7e3230" stroke-width="0.6" stroke-linejoin="round"/>
<polygon points="730.40,766.31 755.45,769.19 754.94,650.76 729.18,648.80" fill="#c0504d" stroke="#c0504d" stroke-width="0.6" stroke-linejoin="round"/>
<polygon points="729.18,648.80 754.94,650.76 764.16,645.75 738.91,643.88" fill="#963a38" stroke="#963a38" stroke-width="0.6" stroke-linejoin="round"/>
<polygon points="820.76,776.71 821.44,718.82 829.18,712.19 828.41,768.85" fill="#7e3230" stroke="#7e3230" stroke-width="0.6" stroke-linejoin="round"/>
<polygon points="794.63,773.70 820.76,776.71 821.44,718.82 794.94,716.27" fill="#c0504d" stroke="#c0504d" stroke-width="0.6" stroke-linejoin="round"/>
<polygon points="794.94,716.27 821.44,718.82 829.18,712.19 803.21,709.75" fill="#963a38" stroke="#963a38" stroke-width="0.6" stroke-linejoin="round"/>
<polygon points="888.96,784.55 892.52,659.26 898.83,653.81 895.17,776.34" fill="#7e3230" stroke="#7e3230" stroke-width="0.6" stroke-linejoin="round"/>
<polygon points="861.66,781.41 888.96,784.55 892.52,659.26 864.37,657.14" fill="#c0504d" stroke="#c0504d" stroke-width="0.6" stroke-linejoin="round"/>
<polygon points="864.37,657.14 892.52,659.26 898.83,653.81 871.30,651.79" fill="#963a38" stroke="#963a38" stroke-width="0.6" stroke-linejoin="round"/>
<polygon points="663.49,782.87 661.18,696.39 672.93,690.12 674.95,774.72" fill="#345a86" stroke="#345a86" stroke-width="0.6" stroke-linejoin="round"/>
<polygon points="638.21,779.76 663.49,782.87 661.18,696.39 635.38,693.96" fill="#4f81bd" stroke="#4f81bd" stroke-width="0.6" stroke-linejoin="round"/>
<polygon points="635.38,693.96 661.18,696.39 672.93,690.12 647.64,687.81" fill="#3b6494" stroke="#3b6494" stroke-width="0.6" stroke-linejoin="round"/>
<polygon points="729.52,791.02 728.50,694.91 738.89,688.53 739.65,782.49" fill="#345a86" stroke="#345a86" stroke-width="0.6" stroke-linejoin="round"/>
<polygon points="703.09,787.76 729.52,791.02 728.50,694.91 701.46,692.44" fill="#4f81bd" stroke="#4f81bd" stroke-width="0.6" stroke-linejoin="round"/>
<polygon points="701.46,692.44 728.50,694.91 738.89,688.53 712.41,686.17" fill="#3b6494" stroke="#3b6494" stroke-width="0.6" stroke-linejoin="round"/>
<polygon points="798.58,799.53 799.12,713.79 807.96,706.81 807.26,790.60" fill="#345a86" stroke="#345a86" stroke-width="0.6" stroke-linejoin="round"/>
<polygon points="770.92,796.12 798.58,799.53 799.12,713.79 770.88,711.10" fill="#4f81bd" stroke="#4f81bd" stroke-width="0.6" stroke-linejoin="round"/>
<polygon points="770.88,711.10 799.12,713.79 807.96,706.81 780.34,704.25" fill="#3b6494" stroke="#3b6494" stroke-width="0.6" stroke-linejoin="round"/>
<polygon points="870.88,808.44 873.47,701.40 880.66,694.54 877.96,799.09" fill="#345a86" stroke="#345a86" stroke-width="0.6" stroke-linejoin="round"/>
<polygon points="841.92,804.87 870.88,808.44 873.47,701.40 843.72,698.75" fill="#4f81bd" stroke="#4f81bd" stroke-width="0.6" stroke-linejoin="round"/>
<polygon points="843.72,698.75 873.47,701.40 880.66,694.54 851.60,692.02" fill="#3b6494" stroke="#3b6494" stroke-width="0.6" stroke-linejoin="round"/>
<text x="577.74" y="789.96" font-size="15.5" fill="#111" textLength="18.29" lengthAdjust="spacingAndGlyphs" font-weight="bold">40</text>
<text x="577.40" y="757.89" font-size="15.5" fill="#111" textLength="18.64" lengthAdjust="spacingAndGlyphs" font-weight="bold">50</text>
<text x="577.22" y="725.31" font-size="15.5" fill="#111" textLength="18.82" lengthAdjust="spacingAndGlyphs" font-weight="bold">60</text>
<text x="577.22" y="692.22" font-size="15.5" fill="#111" textLength="18.82" lengthAdjust="spacingAndGlyphs" font-weight="bold">70</text>
<text x="577.40" y="658.59" font-size="15.5" fill="#111" textLength="18.64" lengthAdjust="spacingAndGlyphs" font-weight="bold">80</text>
<text x="577.40" y="624.42" font-size="15.5" fill="#111" textLength="18.64" lengthAdjust="spacingAndGlyphs" font-weight="bold">90</text>
<text x="530.37" y="702.50" font-size="14" fill="#111" textLength="57.14" lengthAdjust="spacingAndGlyphs" font-weight="bold" transform="rotate(-90 558.80 697.70)">AUC (%)</text>
<text x="614.41" y="809.90" font-size="14.5" fill="#1a1a1a" textLength="41.74" lengthAdjust="spacingAndGlyphs" font-weight="bold" transform="translate(635.40,804.90) rotate(6.5) skewX(-9) translate(-635.40,-804.90)">C vs IR</text>
<text x="691.00" y="817.00" font-size="14.5" fill="#1a1a1a" textLength="33.33" lengthAdjust="spacingAndGlyphs" font-weight="bold" transform="translate(707.65,812.00) rotate(6.5) skewX(-9) translate(-707.65,-812.00)">20 vs</text>
<text x="675.36" y="833.70" font-size="14.5" fill="#1a1a1a" textLength="59.27" lengthAdjust="spacingAndGlyphs" font-weight="bold" transform="translate(705.00,828.70) rotate(6.5) skewX(-9) translate(-705.00,-828.70)">(40 + 80)</text>
<text x="694.38" y="849.50" font-size="14.5" fill="#1a1a1a" textLength="17.27" lengthAdjust="spacingAndGlyphs" font-weight="bold" transform="translate(703.25,844.50) rotate(6.5) skewX(-9) translate(-703.25,-844.50)">Gy</text>
<text x="766.57" y="827.90" font-size="14.5" fill="#1a1a1a" textLength="33.06" lengthAdjust="spacingAndGlyphs" font-weight="bold" transform="translate(782.95,822.90) rotate(6.5) skewX(-9) translate(-782.95,-822.90)">40 vs</text>
<text x="751.37" y="844.50" font-size="14.5" fill="#1a1a1a" textLength="59.17" lengthAdjust="spacingAndGlyphs" font-weight="bold" transform="translate(780.95,839.50) rotate(6.5) skewX(-9) translate(-780.95,-839.50)">(20 + 80)</text>
<text x="770.61" y="860.40" font-size="14.5" fill="#1a1a1a" textLength="16.34" lengthAdjust="spacingAndGlyphs" font-weight="bold" transform="translate(779.00,855.40) rotate(6.5) skewX(-9) translate(-779.00,-855.40)">Gy</text>
<text x="823.97" y="836.60" font-size="14.5" fill="#1a1a1a" textLength="58.55" lengthAdjust="spacingAndGlyphs" font-weight="bold" transform="translate(853.25,831.60) rotate(6.5) skewX(-9) translate(-853.25,-831.60)">(20 + 40)</text>
<text x="836.10" y="852.80" font-size="14.5" fill="#1a1a1a" textLength="31.20" lengthAdjust="spacingAndGlyphs" font-weight="bold" transform="translate(851.50,847.80) rotate(6.5) skewX(-9) translate(-851.50,-847.80)">vs 80</text>
<text x="840.91" y="867.90" font-size="14.5" fill="#1a1a1a" textLength="16.34" lengthAdjust="spacingAndGlyphs" font-weight="bold" transform="translate(849.30,862.90) rotate(6.5) skewX(-9) translate(-849.30,-862.90)">Gy</text>
<text x="936.69" y="770.00" font-size="14.5" fill="#111" textLength="34.74" lengthAdjust="spacingAndGlyphs" font-weight="bold">Day 7</text>
<text x="922.00" y="792.50" font-size="14.5" fill="#111" textLength="34.40" lengthAdjust="spacingAndGlyphs" font-weight="bold">Day 3</text>
<text x="909.37" y="814.30" font-size="14.5" fill="#111" textLength="50.57" lengthAdjust="spacingAndGlyphs" font-weight="bold">Day 3+7</text>
</svg>
</body></html>
